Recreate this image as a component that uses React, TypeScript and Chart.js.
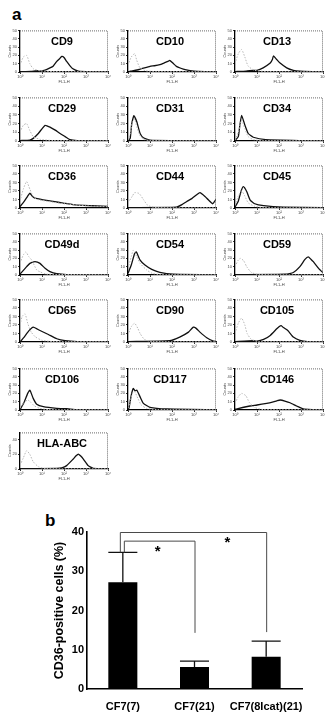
import React, { useEffect, useRef } from "react";
import { Chart, registerables } from "chart.js";
Chart.register(...registerables);
Chart.defaults.font.family = "'Liberation Sans', Arial, sans-serif";

// ---------- Panel a: flow cytometry histograms ([fluorescence FL1-H, counts]) ----------
const PANEL_NAMES = [
  "CD9", "CD10", "CD13", "CD29", "CD31", "CD34", "CD36", "CD44", "CD45", "CD49d",
  "CD54", "CD59", "CD65", "CD90", "CD105", "CD106", "CD117", "CD146", "HLA-ABC",
];
const DECADE_LABELS = ["10\u2070", "10\u00b9", "10\u00b2", "10\u00b3", "10\u2074"];
const DECADE_VALUES = [1, 10, 100, 1000, 10000];
const COUNT_TICKS = [0, 10, 20, 30, 40, 50];

const CD9_SAMPLE = [[1,0.5],[3.2,0.8],[5.8,1.5],[7.9,1],[12.6,2],[23,5],[32,7],[47,12.7],[63,16],[79,18.7],[100,17.5],[132,12.7],[224,5],[316,2.5],[447,1],[1000,0.5],[10000,0.3]];
const CD9_CONTROL = [[1,8],[1.41,18],[2,20],[2.8,10],[4,4],[7.9,1.5],[32,0.5],[10000,0.2]];
const CD10_SAMPLE = [[1.12,0.5],[1.26,1],[3.16,3],[10,6.8],[15.8,7.5],[28,8.8],[45,11],[66,12.7],[79,14],[112,10.5],[158,6.8],[251,4.5],[398,2.8],[1000,1],[3162,0.5],[10000,0.3]];
const CD10_CONTROL = [[1,8],[1.41,18],[2,22],[2.5,14],[3.5,5],[6.3,1.5],[20,0.5],[10000,0.2]];
const CD13_SAMPLE = [[1,0.5],[3.2,1],[6.6,2],[10,2],[19,5],[40,10.7],[50,15],[56,19.5],[79,15],[112,10.7],[224,5],[447,2],[891,1],[3162,0.5],[10000,0.3]];
const CD13_CONTROL = [[1,10],[1.41,22],[2,27],[2.8,18],[4,7],[7.9,2],[32,0.5],[10000,0.2]];
const CD29_SAMPLE = [[1,0.5],[2.8,1],[4,3],[6.8,8.6],[10,14],[13.8,18],[17.8,17],[23,16],[40,12.5],[66,8.6],[112,5],[186,1.5],[398,0.5],[10000,0.3]];
const CD29_CONTROL = [[1,10],[1.41,18],[2,20],[2.8,12],[4,5],[7.9,2],[32,0.5],[10000,0.2]];
const CD31_SAMPLE = [[1,0.5],[1.26,3],[1.48,20],[1.86,29],[2.51,22],[3.55,8.6],[5,3.8],[10,1],[100,0.5],[10000,0.3]];
const CD31_CONTROL = [[1,1],[1.26,8],[1.58,22],[2,25],[2.51,16],[3.55,6],[5,2],[10,0.5],[10000,0.2]];
const CD34_SAMPLE = [[1,0.5],[1.41,5],[1.66,18],[2,29.5],[2.82,18],[4,8.6],[6.8,4.3],[25,1.5],[1000,0.5],[10000,0.3]];
const CD34_CONTROL = [[1,1],[1.41,10],[2,24],[2.8,14],[4,5],[7,1.5],[20,0.5],[10000,0.2]];
const CD36_SAMPLE = [[1,1.6],[1.58,8],[2.24,14],[2.82,17.4],[3.55,14],[4.8,11.6],[11.5,9.6],[31.6,7.7],[93,5.8],[251,4],[759,3],[3162,2.5],[10000,2]];
const CD36_CONTROL = [[1,8],[1.41,22],[2,31],[2.82,22],[4,13.5],[6.3,10],[15.8,8],[100,5],[1000,2.5],[10000,1.5]];
const CD44_SAMPLE = [[1,0.5],[158,1],[282,4],[468,7.7],[794,11],[1318,15.5],[1862,18],[3162,13.5],[4467,9.6],[7079,5],[10000,10]];
const CD44_CONTROL = [[1,6],[1.58,14],[2,18],[3.2,17],[5,10],[8,3],[20,0.5],[10000,0.2]];
const CD45_SAMPLE = [[1,1],[1.41,8],[1.9,20],[2.4,25],[3.4,19.3],[4.8,9.6],[7.9,5],[20,2.7],[158,1],[10000,0.3]];
const CD45_CONTROL = [[1,3],[1.41,14],[2,20],[2.8,14],[4,6],[7.9,2],[20,0.5],[10000,0.2]];
const CD49D_SAMPLE = [[1,1],[2,10],[2.82,14],[4.8,16],[8.1,14],[13.8,8],[23,4],[47,1.5],[132,0.5],[10000,0.3]];
const CD49D_CONTROL = [[1,14],[1.41,24],[1.86,27.7],[2.51,22],[3.4,18],[5.75,6],[7.9,4],[15.8,1],[10000,0.2]];
const CD54_SAMPLE = [[1,2],[1.41,12],[2,25.8],[2.4,27.7],[3.55,17.8],[5.9,12],[12,6.8],[28,3.2],[112,1],[10000,0.3]];
const CD54_CONTROL = [[1,8],[1.41,22],[1.74,29.8],[2.5,22],[3.55,14],[7.1,6],[12.6,2],[30,0.5],[10000,0.2]];
const CD59_SAMPLE = [[1,0.5],[200,1],[447,3],[891,10],[1514,18.7],[2138,21.8],[2818,19],[3631,16],[6310,8],[10000,2.7]];
const CD59_CONTROL = [[1,10],[1.41,18],[1.78,20],[2.5,17],[3.4,10],[5.6,3],[12.6,0.5],[10000,0.2]];
const CD65_SAMPLE = [[1,0],[1.58,6],[2.51,13],[3.98,17.4],[8.1,13.5],[19.5,8.8],[47,3.8],[112,1.5],[398,0.5],[10000,0.3]];
const CD65_CONTROL = [[1,20],[1.26,30],[1.7,33],[2.24,22],[3.16,12],[5,6],[10,2],[31.6,0.5],[10000,0.2]];
const CD90_SAMPLE = [[1,0.5],[79,1.5],[224,5.8],[562,11.6],[933,17.4],[1259,16],[1862,11.6],[3802,5],[7586,1],[10000,0.5]];
const CD90_CONTROL = [[1,8],[1.41,18],[2,22],[2.8,16],[3.55,10],[5.6,3],[12.6,0.5],[10000,0.2]];
const CD105_SAMPLE = [[1,0.5],[6.8,1.5],[10,1],[20,3],[40,7.7],[79,15.5],[100,18],[126,19.3],[158,17],[251,13.5],[447,5.8],[891,2],[1995,0.5],[10000,0.3]];
const CD105_CONTROL = [[1,10],[1.41,22],[2,28],[2.8,20],[3.55,10],[5.6,3],[12.6,0.5],[10000,0.2]];
const CD106_SAMPLE = [[1,0],[1.58,10],[2.24,20],[2.82,23.8],[3.98,14],[5.75,7],[11.5,4],[47,2],[132,1.5],[398,0.5],[10000,0.3]];
const CD106_CONTROL = [[1,2],[1.41,8],[2.24,12],[3.16,9],[4.47,5],[7.9,2],[20,0.5],[10000,0.2]];
const CD117_SAMPLE = [[1,0.5],[1.12,3],[1.41,18],[1.74,25.8],[2.09,23],[2.51,23.8],[3.55,15.8],[5,8],[10,3.2],[58,1.2],[10000,0.3]];
const CD117_CONTROL = [[1,2],[1.26,10],[1.58,20],[2,22],[2.8,14],[4,6],[7,2],[20,0.5],[10000,0.2]];
const CD146_SAMPLE = [[1,1],[4.8,4.8],[10,6],[27.5,8],[50,9.5],[79,11],[112,12],[200,10.5],[316,8.7],[631,4.8],[1259,1.2],[3162,0.5],[10000,0.3]];
const CD146_CONTROL = [[1,8],[1.41,16],[2,20],[3.16,17],[4.47,9],[7.9,3],[20,0.5],[10000,0.2]];
const HLA_SAMPLE = [[1,0.5],[47,0.8],[79,1.5],[132,4.6],[263,13.6],[355,18],[447,20.4],[562,18],[759,13.6],[1259,4.6],[2138,1],[10000,0.3]];
const HLA_CONTROL = [[1,5],[1.41,15],[2,25],[2.8,20],[3.98,10],[7,3],[15,0.5],[10000,0.2]];

const SAMPLE_SERIES = [CD9_SAMPLE, CD10_SAMPLE, CD13_SAMPLE, CD29_SAMPLE, CD31_SAMPLE, CD34_SAMPLE, CD36_SAMPLE, CD44_SAMPLE, CD45_SAMPLE, CD49D_SAMPLE, CD54_SAMPLE, CD59_SAMPLE, CD65_SAMPLE, CD90_SAMPLE, CD105_SAMPLE, CD106_SAMPLE, CD117_SAMPLE, CD146_SAMPLE, HLA_SAMPLE];
const CONTROL_SERIES = [CD9_CONTROL, CD10_CONTROL, CD13_CONTROL, CD29_CONTROL, CD31_CONTROL, CD34_CONTROL, CD36_CONTROL, CD44_CONTROL, CD45_CONTROL, CD49D_CONTROL, CD54_CONTROL, CD59_CONTROL, CD65_CONTROL, CD90_CONTROL, CD105_CONTROL, CD106_CONTROL, CD117_CONTROL, CD146_CONTROL, HLA_CONTROL];

// ---------- Panel b: bar chart ----------
const BAR_LABELS = ["CF7(7)", "CF7(21)", "CF7(8Icat)(21)"];
const BAR_VALUES = [27.2, 5.6, 8.2];
const BAR_ERRORS = [7.6, 1.5, 4.0];
const Y_TICKS = [0, 10, 20, 30, 40];
const SIG_PAIRS = [[0, 1], [0, 2]];
const SIG_HEIGHTS = [37.8, 40];
const SIG_ENDS = [14.3, 14.5];
const SIG_MARK = "*";

// ---------- layout (styles) ----------
const COL_LEFT = [20, 128, 235];
const ROW_TOP = [30, 97, 165, 233, 299, 368, 432];
const ROW_H = [42, 44, 43, 42, 43, 42, 37];
const PLOT_W = 88;
const Y_AX = 13;
const X_AX = 12;
const PAD_T = 3;
const PAD_R = 4;

const framePlugin = {
  id: "frame",
  afterDraw(chart: any) {
    const { ctx, chartArea: a } = chart;
    ctx.save();
    ctx.strokeStyle = "#6a6a6a";
    ctx.lineWidth = 1;
    ctx.setLineDash([1, 1]);
    ctx.beginPath();
    ctx.moveTo(a.left, a.top + 0.5);
    ctx.lineTo(a.right - 0.5, a.top + 0.5);
    ctx.lineTo(a.right - 0.5, a.bottom);
    ctx.stroke();
    ctx.restore();
  },
};

function Histogram({ idx }: { idx: number }) {
  const ref = useRef<HTMLCanvasElement>(null);
  const col = idx % 3;
  const row = Math.floor(idx / 3);
  const h = ROW_H[row];
  const w = Y_AX + PLOT_W + PAD_R;
  const ch = PAD_T + h + X_AX;
  useEffect(() => {
    const chart = new Chart(ref.current as HTMLCanvasElement, {
      type: "line",
      data: {
        datasets: [
          {
            data: CONTROL_SERIES[idx].map(([x, y]) => ({ x, y })),
            borderColor: "#b8b8b8",
            borderWidth: 1,
            borderDash: [1.5, 1.5],
            pointRadius: 0,
            tension: 0.2,
          },
          {
            data: SAMPLE_SERIES[idx].map(([x, y]) => ({ x, y })),
            borderColor: "#111",
            borderWidth: 1.3,
            pointRadius: 0,
            tension: 0.15,
          },
        ],
      },
      options: {
        responsive: false,
        animation: false,
        events: [],
        layout: { padding: { top: PAD_T, right: PAD_R, left: 0, bottom: 0 } },
        plugins: { legend: { display: false }, tooltip: { enabled: false } },
        scales: {
          x: {
            type: "logarithmic",
            min: 1,
            max: 10000,
            afterFit: (s: any) => { s.height = X_AX; },
            afterBuildTicks: (s: any) => { s.ticks = DECADE_VALUES.map((v) => ({ value: v })); },
            ticks: {
              autoSkip: false,
              maxRotation: 0,
              padding: 0,
              font: { size: 4 },
              color: "#444",
              callback: (_v: any, i: number) => DECADE_LABELS[i],
            },
            grid: { display: true, drawOnChartArea: false, tickLength: 2, color: "#000", lineWidth: 0.8 },
            border: { color: "#000", width: 1.3 },
            title: { display: true, text: "FL1-H", font: { size: 4 }, color: "#444", padding: 0 },
          },
          y: {
            min: 0,
            max: 50,
            afterFit: (s: any) => { s.width = Y_AX; },
            afterBuildTicks: (s: any) => { s.ticks = COUNT_TICKS.map((v) => ({ value: v })); },
            ticks: { font: { size: 4 }, color: "#444", padding: 1 },
            grid: { display: true, drawOnChartArea: false, tickLength: 2, color: "#000", lineWidth: 0.8 },
            border: { color: "#000", width: 1.3 },
            title: { display: true, text: "Counts", font: { size: 4 }, color: "#444", padding: 0 },
          },
        },
      } as any,
      plugins: [framePlugin],
    });
    return () => chart.destroy();
  }, [idx]);
  return (
    <>
      <canvas
        ref={ref}
        width={w}
        height={ch}
        style={{ position: "absolute", left: COL_LEFT[col] - Y_AX, top: ROW_TOP[row] - PAD_T, width: w, height: ch }}
      />
      <div
        style={{
          position: "absolute",
          left: COL_LEFT[col] - 2,
          top: ROW_TOP[row] + 6,
          width: PLOT_W,
          textAlign: "center",
          font: "bold 11px 'Liberation Sans Narrow', 'Arial Narrow', 'Liberation Sans', Arial, sans-serif",
          lineHeight: "11px",
          color: "#000",
        }}
      >
        {PANEL_NAMES[idx]}
      </div>
    </>
  );
}

const barExtras = {
  id: "barExtras",
  afterDatasetsDraw(chart: any) {
    const { ctx } = chart;
    const xs = chart.scales.x;
    const ys = chart.scales.y;
    const meta = chart.getDatasetMeta(0);
    ctx.save();
    // error bars (upper)
    ctx.strokeStyle = "#111";
    ctx.lineWidth = 1.3;
    BAR_VALUES.forEach((v, i) => {
      const bar = meta.data[i];
      const cx = xs.getPixelForValue(i);
      const half = bar.width / 2;
      const y0 = ys.getPixelForValue(v);
      const y1 = ys.getPixelForValue(v + BAR_ERRORS[i]);
      ctx.beginPath();
      ctx.moveTo(cx, y0);
      ctx.lineTo(cx, y1);
      ctx.moveTo(cx - half, y1);
      ctx.lineTo(cx + half, y1);
      ctx.stroke();
    });
    // significance brackets
    ctx.strokeStyle = "#4a4a4a";
    ctx.lineWidth = 1;
    SIG_PAIRS.forEach(([a, b], k) => {
      const xa = xs.getPixelForValue(a) + (k === 0 ? 1 : -3);
      const xb = xs.getPixelForValue(b);
      const ya = ys.getPixelForValue(BAR_VALUES[a] + BAR_ERRORS[a]);
      const yh = ys.getPixelForValue(SIG_HEIGHTS[k]);
      const yb = ys.getPixelForValue(SIG_ENDS[k]);
      ctx.beginPath();
      ctx.moveTo(xa + 0.5, ya);
      ctx.lineTo(xa + 0.5, yh + 0.5);
      ctx.lineTo(xb + 0.5, yh + 0.5);
      ctx.lineTo(xb + 0.5, yb);
      ctx.stroke();
      const sx = (xs.getPixelForValue(k) + xs.getPixelForValue(k + 1)) / 2 - (k === 0 ? 1 : 3);
      ctx.fillStyle = "#000";
      ctx.font = "bold 15px 'Liberation Sans', Arial, sans-serif";
      ctx.textAlign = "center";
      ctx.textBaseline = "middle";
      ctx.fillText(SIG_MARK, sx, yh + 11);
    });
    ctx.restore();
  },
};

function BarChart() {
  const ref = useRef<HTMLCanvasElement>(null);
  useEffect(() => {
    const chart = new Chart(ref.current as HTMLCanvasElement, {
      type: "bar",
      data: {
        labels: BAR_LABELS,
        datasets: [
          {
            data: BAR_VALUES,
            backgroundColor: "#000",
            borderWidth: 0,
            barPercentage: 0.405,
            categoryPercentage: 1,
          },
        ],
      },
      options: {
        responsive: false,
        animation: false,
        events: [],
        layout: { padding: { top: 42, right: 23, left: 0, bottom: 0 } },
        plugins: { legend: { display: false }, tooltip: { enabled: false } },
        scales: {
          x: {
            offset: true,
            afterFit: (s: any) => { s.height = 27; },
            grid: { display: false, drawTicks: false },
            border: { color: "#000", width: 1.6 },
            ticks: { font: { size: 11, weight: "bold" }, color: "#000", padding: 11, maxRotation: 0, autoSkip: false },
          },
          y: {
            min: 0,
            max: 40,
            afterFit: (s: any) => { s.width = 87; },
            afterBuildTicks: (s: any) => { s.ticks = Y_TICKS.map((v) => ({ value: v })); },
            grid: { display: false, drawTicks: false },
            border: { color: "#000", width: 1.6 },
            ticks: { font: { size: 11, weight: "bold" }, color: "#000", padding: 3 },
            title: {
              display: true,
              text: "CD36-positive cells (%)",
              font: { size: 12.5, weight: "bold" },
              color: "#000",
              padding: { top: 52, bottom: 0 },
            },
          },
        },
      } as any,
      plugins: [barExtras],
    });
    return () => chart.destroy();
  }, []);
  return (
    <canvas
      ref={ref}
      width={325}
      height={226}
      style={{ position: "absolute", left: 0, top: 490, width: 325, height: 226 }}
    />
  );
}

const labelStyle: React.CSSProperties = {
  position: "absolute",
  font: "bold 17px 'Liberation Sans', Arial, sans-serif",
  lineHeight: "17px",
  color: "#000",
};

export default function App() {
  return (
    <div style={{ position: "absolute", left: 0, top: 0, width: 325, height: 716, background: "#fff", overflow: "hidden" }}>
      <div style={{ ...labelStyle, left: 12, top: 6 }}>a</div>
      {PANEL_NAMES.map((_, i) => (
        <Histogram key={i} idx={i} />
      ))}
      <div style={{ ...labelStyle, left: 45, top: 512 }}>b</div>
      <BarChart />
    </div>
  );
}
